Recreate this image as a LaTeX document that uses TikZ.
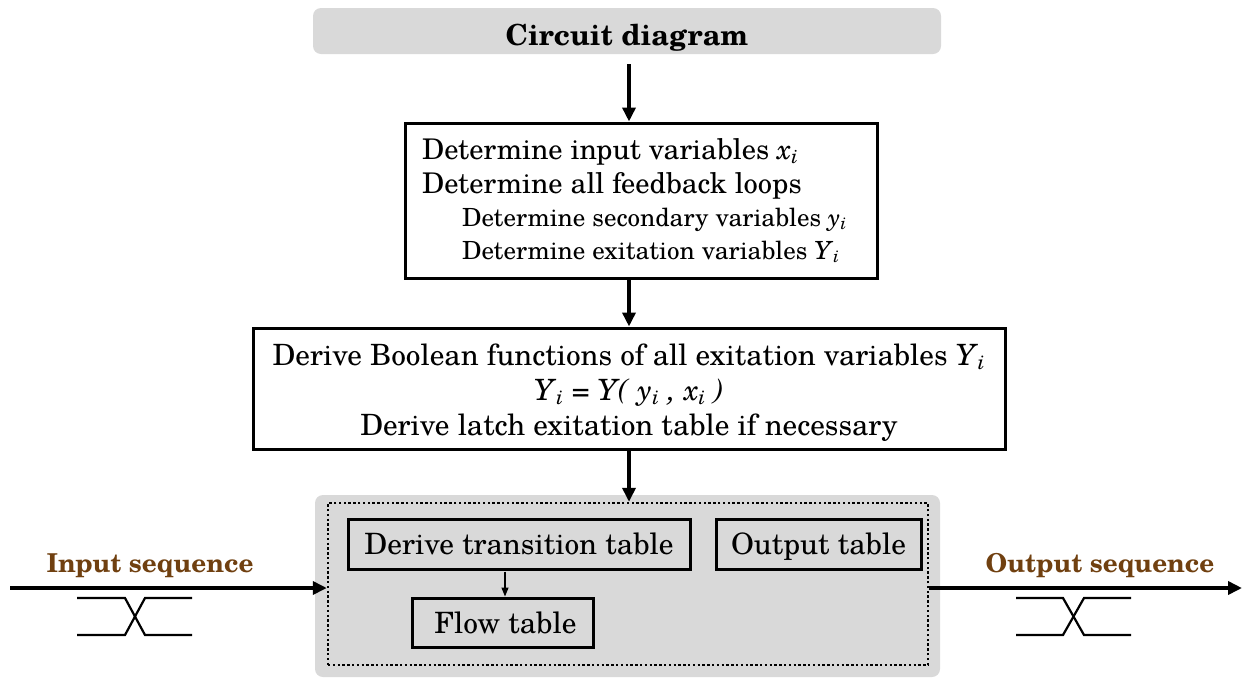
\documentclass[tikz,border=0pt]{standalone}
\usepackage{fontspec}
\setmainfont{texgyreschola}[Extension=.otf, UprightFont=*-regular, BoldFont=*-bold, ItalicFont=*-italic, BoldItalicFont=*-bolditalic]
\usetikzlibrary{arrows.meta}
\definecolor{panelgray}{RGB}{217,217,217}
\definecolor{seqbrown}{RGB}{112,64,16}
% italic variable with italic subscript
\newcommand\vx[2]{\textit{#1}\textsubscript{\textit{#2}}}
\begin{document}
\begin{tikzpicture}[x=1pt,y=-1pt,
  panel/.style={fill=panelgray, rounded corners=8pt, draw=none, inner sep=0pt},
  stepbox/.style={draw, line width=3pt, fill=white, inner sep=0pt},
  tablebox/.style={draw, line width=3pt, inner sep=0pt, text depth=0pt, font=\fontsize{29.4}{34}\selectfont},
  dotframe/.style={draw, line width=2.4pt, dash pattern=on 2.4pt off 2.4pt, inner sep=0pt},
  bigarrow/.style={line width=4.5pt, -{Triangle[length=14pt,width=13pt]}},
  smallarrow/.style={line width=1.3pt, -{Triangle[length=9pt,width=7pt]}},
  wave/.style={line width=2.2pt},
  txtw/.style={anchor=base west, inner sep=0pt},
  txtc/.style={anchor=base, inner sep=0pt},
  bigtext/.style={font=\fontsize{28.5}{33}\selectfont},
  smalltext/.style={font=\fontsize{25}{30}\selectfont},
  midtext/.style={font=\fontsize{29.3}{34}\selectfont},
  seqlabel/.style={anchor=base, inner sep=0pt, text=seqbrown, font=\bfseries\fontsize{26}{30}\selectfont}
]
\useasboundingbox (0,0) rectangle (1242,678);

% header
\node[panel, minimum width=628pt, minimum height=46pt] (top) at (627,31) {};
\node[txtc, font=\bfseries\fontsize{29}{34}\selectfont] (toptxt) at (627,45) {Circuit diagram};

% variable determination
\node[stepbox, minimum width=472pt, minimum height=155pt] (b2) at (641,200.5) {};
\node[txtw, bigtext] (b2a) at (422,159) {Determine input variables \vx{x}{i}};
\node[txtw, bigtext] (b2b) at (422,193) {Determine all feedback loops};
\node[txtw, smalltext] (b2c) at (462,226) {Determine secondary variables \vx{y}{i}};
\node[txtw, smalltext] (b2d) at (462,259) {Determine exitation variables \vx{Y}{i}};

% boolean functions
\node[stepbox, minimum width=752pt, minimum height=121pt] (b3) at (629,388.5) {};
\node[txtc, midtext] (b3a) at (629,365) {Derive Boolean functions of all exitation variables \vx{Y}{i}};
\node[txtc, midtext] (b3b) at (629,400) {\vx{Y}{i} = \textit{Y( }\vx{y}{i}\textit{ , }\vx{x}{i}\textit{ )}};
\node[txtc, midtext] (b3c) at (629,435) {Derive latch exitation table if necessary};

% tables
\node[panel, minimum width=625pt, minimum height=182pt] (bg) at (627.5,586) {};
\node[dotframe, minimum width=600pt, minimum height=162pt] (frame) at (628,584) {};
\node[tablebox, minimum width=342pt, minimum height=50pt] (trans) at (519,544) {Derive transition table};
\node[tablebox, minimum width=205pt, minimum height=50pt] (outt) at (818.5,544) {Output table};
\node[tablebox, minimum width=181pt, minimum height=49pt] (flow) at (502.5,622.5) {\hspace*{6pt}Flow table};

% flow arrows
\coordinate (a1) at (629,64);
\draw[bigarrow] (a1) -- (a1 |- b2.north);
\draw[bigarrow] (a1 |- b2.south) -- (a1 |- b3.north);
\draw[bigarrow] (a1 |- b3.south) -- (a1 |- frame.north);
\draw[smallarrow] (flow.north |- trans.south) ++(2.5,1) -- ([xshift=2.5pt]flow.north);

% input / output sequences
\coordinate (inS) at (10,588);
\coordinate (outE) at (1242,588);
\draw[bigarrow] (inS) -- (inS -| frame.west);
\draw[bigarrow] (outE -| frame.east) -- (outE);
\node[seqlabel] (inlbl) at (150,572) {Input sequence};
\node[seqlabel] (outlbl) at (1100,572) {Output sequence};

% signal transition symbols
\draw[wave] (77,598) -- (125,598) -- (145,635) -- (192,635);
\draw[wave] (77,635) -- (125,635) -- (145,598) -- (192,598);
\draw[wave] (1016,598) -- (1063,598) -- (1084,635) -- (1131,635);
\draw[wave] (1016,635) -- (1063,635) -- (1084,598) -- (1131,598);
\end{tikzpicture}
\end{document}
